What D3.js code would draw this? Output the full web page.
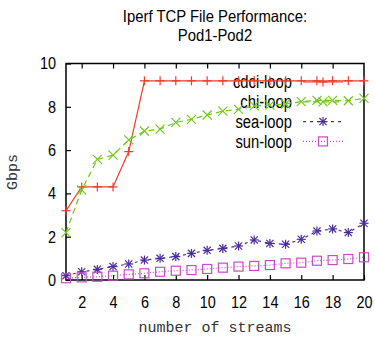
<!DOCTYPE html>
<html><head><meta charset="utf-8">
<script src="https://cdn.jsdelivr.net/npm/d3@7"></script>
<style>body{margin:0;background:#fff}svg{display:block}</style>
</head><body>
<script>
const streams = d3.range(1, 21);
const cdciLoop = [3.2,4.3,4.3,4.3,5.93,9.2,9.2,9.2,9.2,9.2,9.2,9.2,9.2,9.2,9.2,9.2,9.2,9.2,9.2,9.2];
const chiLoop = [2.19,4.16,5.57,5.77,6.47,6.88,6.97,7.28,7.42,7.62,7.8,7.88,8.04,8.08,8.13,8.24,8.3,8.3,8.28,8.39];
const seaLoop = [0.2,0.38,0.49,0.62,0.74,0.92,1.0,1.08,1.23,1.37,1.46,1.57,1.85,1.69,1.65,1.88,2.26,2.36,2.19,2.62];
const sunLoop = [0.08,0.12,0.15,0.2,0.26,0.31,0.38,0.43,0.46,0.51,0.57,0.62,0.65,0.69,0.77,0.8,0.89,0.92,0.97,1.05];
const xTicks = [2,4,6,8,10,12,14,16,18,20];
const yTicks = [0,2,4,6,8,10];
const titleLines = ["Iperf TCP File Performance:", "Pod1-Pod2"];
const seriesNames = ["cdci-loop","chi-loop","sea-loop","sun-loop"];

const W = 375, H = 343;
const svg = d3.select("body").append("svg").attr("width", W).attr("height", H);
const x = d3.scaleLinear().domain([1,20]).range([66,364]);
const y = d3.scaleLinear().domain([0,10]).range([280,63.5]);

const series = [
  {name: seriesNames[0], values: cdciLoop, color: "#ee3b2a", dash: null, marker: "plus"},
  {name: seriesNames[1], values: chiLoop, color: "#72c81e", dash: "6,4", marker: "cross"},
  {name: seriesNames[2], values: seaLoop, color: "#4a2ea0", dash: "3,4", marker: "star"},
  {name: seriesNames[3], values: sunLoop, color: "#c64cc6", dash: "1,2", marker: "square"}
];

const sans = "'Liberation Sans', Arial, sans-serif";
// emulate a condensed (narrow) face by compressing glyphs horizontally
function narrow(sel, f = 0.82) {
  sel.each(function() {
    const w = this.getComputedTextLength();
    if (w > 0) d3.select(this).attr("textLength", w * f).attr("lengthAdjust", "spacingAndGlyphs");
  });
}

// title
svg.append("g").selectAll("text").data(titleLines).join("text")
  .attr("x", 215).attr("y", (d,i) => 21.5 + i*19)
  .attr("text-anchor","middle")
  .attr("font-family", sans)
  .attr("font-size", 16.5).attr("fill","#000").text(d => d)
  .call(narrow, 0.9);

// axes
const xAxis = svg.append("g").attr("transform","translate(0,280)")
  .call(d3.axisBottom(x).tickValues(xTicks).tickSize(-5).tickPadding(16));
const xAxisTop = svg.append("g").attr("transform","translate(0,63.5)")
  .call(d3.axisTop(x).tickValues(xTicks.slice(0,-1)).tickSize(-5).tickFormat(""));
const yAxis = svg.append("g").attr("transform","translate(66,0)")
  .call(d3.axisLeft(y).tickValues(yTicks).tickSize(-5).tickPadding(10));
[xAxis, xAxisTop, yAxis].forEach(g => {
  g.select(".domain").remove();
  g.selectAll("line").attr("stroke","#000").attr("stroke-width",1.2);
  g.selectAll("text").attr("font-family", sans).attr("font-size", 17).attr("fill","#000")
    .call(narrow, 0.85);
});

// frame
svg.append("rect").attr("x",66).attr("y",63.5).attr("width",298).attr("height",216.5)
  .attr("fill","none").attr("stroke","#000").attr("stroke-width",1.5);

// axis labels
const mono = "'Liberation Mono', 'DejaVu Sans Mono', monospace";
svg.append("text").attr("x",215).attr("y",332).attr("text-anchor","middle")
  .attr("font-family",mono).attr("font-size",15).attr("fill","#333").text("number of streams");
svg.append("text").attr("transform","translate(17,172) rotate(-90)").attr("text-anchor","middle")
  .attr("font-family",mono).attr("font-size",15).attr("fill","#333").text("Gbps");

function drawMarker(g, type, cx, cy, color) {
  const s = 4.5;
  const m = g.append("g").attr("transform",`translate(${cx},${cy})`)
    .attr("stroke", color).attr("stroke-width",1.2).attr("fill","none");
  if (type === "plus" || type === "star") {
    m.append("line").attr("x1",-s).attr("x2",s).attr("y1",0).attr("y2",0);
    m.append("line").attr("x1",0).attr("x2",0).attr("y1",-s).attr("y2",s);
  }
  if (type === "cross" || type === "star") {
    const c = type === "star" ? s*0.8 : s;
    m.append("line").attr("x1",-c).attr("x2",c).attr("y1",-c).attr("y2",c);
    m.append("line").attr("x1",-c).attr("x2",c).attr("y1",c).attr("y2",-c);
  }
  if (type === "square") {
    m.append("rect").attr("x",-s).attr("y",-s).attr("width",2*s).attr("height",2*s);
  }
}

const line = d3.line().x((d,i) => x(streams[i])).y(d => y(d));
// legend
const legY0 = 82, legDy = 19.8;
series.forEach((s, k) => {
  const ly = legY0 + k*legDy;
  svg.append("text").attr("x",292).attr("y",ly).attr("dy","0.36em").attr("text-anchor","end")
    .attr("font-family",sans).attr("font-size",18).attr("fill","#000").text(s.name)
    .call(narrow, 0.82);
  svg.append("line").attr("x1",303).attr("x2",343).attr("y1",ly).attr("y2",ly)
    .attr("stroke",s.color).attr("stroke-width",1.2).attr("stroke-dasharray",s.dash);
  drawMarker(svg, s.marker, 323, ly, s.color);
});

series.forEach(s => {
  const g = svg.append("g");
  g.append("path").datum(s.values).attr("d", line).attr("fill","none")
    .attr("stroke", s.color).attr("stroke-width",1.2).attr("stroke-dasharray", s.dash);
  s.values.forEach((v,i) => drawMarker(g, s.marker, x(streams[i]), y(v), s.color));
});
</script>
</body></html>
